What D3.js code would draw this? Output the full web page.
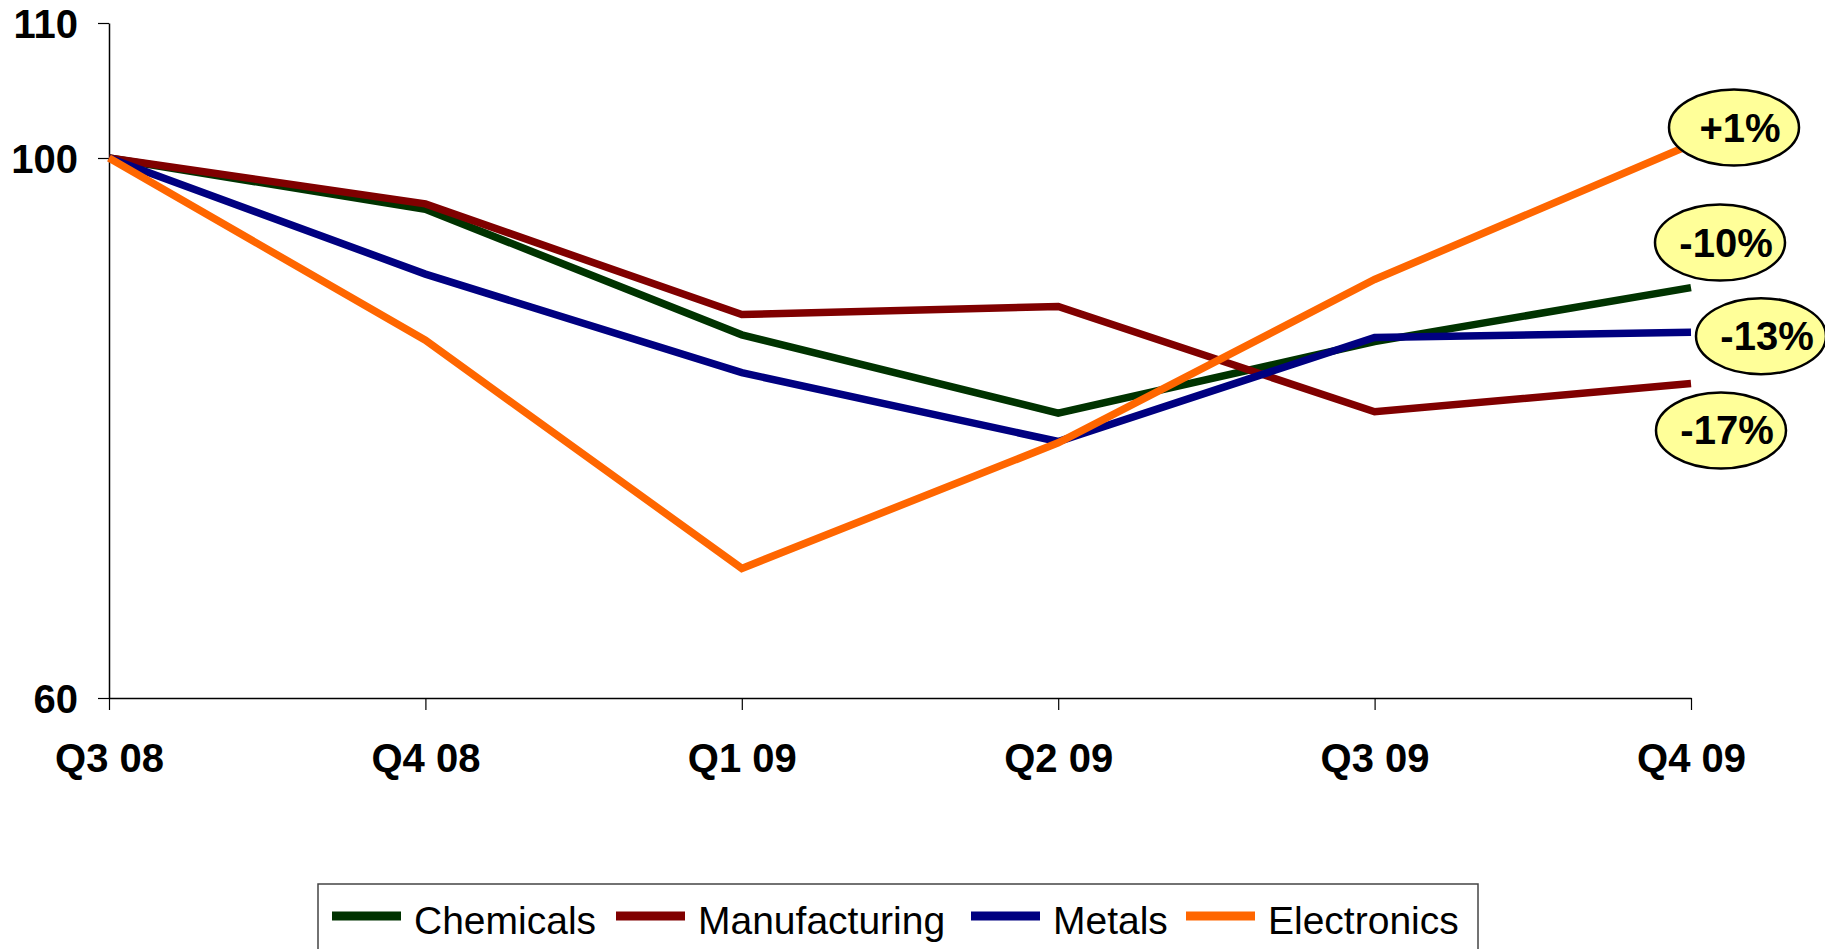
<!DOCTYPE html>
<html>
<head>
<meta charset="utf-8">
<script src="https://cdn.jsdelivr.net/npm/d3@7"></script>
<style>
  html, body { margin: 0; padding: 0; background: #fff; overflow: hidden; }
  svg { display: block; font-family: "Liberation Sans", Arial, sans-serif; }
</style>
</head>
<body>
<svg id="chart" width="1825" height="949"></svg>
<script>
// ---- data ----
const quarters = ["Q3 08", "Q4 08", "Q1 09", "Q2 09", "Q3 09", "Q4 09"];
const chemicals     = [100, 96.2, 86.9, 81.1, 86.4, 90.4];
const manufacturing = [100, 96.6, 88.4, 89.0, 81.2, 83.3];
const metals        = [100, 91.4, 84.1, 79.0, 86.7, 87.1];
const electronics   = [100, 86.5, 69.6, 78.9, 91.0, 101.0];
const seriesNames   = ["Chemicals", "Manufacturing", "Metals", "Electronics"];
const seriesValues  = [chemicals, manufacturing, metals, electronics];
const seriesColors  = ["#003300", "#800000", "#000080", "#FF6600"];
const yTickValues   = [60, 100, 110];
const changeLabels  = ["-10%", "-17%", "-13%", "+1%"];   // per series, same order

// annotation offsets from each series' last point (layout only)
const labelOffsets = [[29, -45], [30, 47], [70, 4], [43, -17]];
// legend item left edges (layout only)
const legendX = [332, 616, 971, 1186];

// ---- layout ----
const svg = d3.select("#chart");
const x = d3.scalePoint().domain(quarters).range([109, 1691]);
const y = d3.scaleLinear().domain([60, 110]).range([698, 23]);

// y axis
const yAxis = svg.append("g")
  .attr("transform", "translate(109,0)")
  .call(d3.axisLeft(y).tickValues(yTickValues).tickSize(11).tickSizeOuter(0).tickPadding(20));
yAxis.select(".domain").attr("stroke", "#000").attr("stroke-width", 1.5);
yAxis.selectAll(".tick line").attr("stroke", "#000").attr("stroke-width", 1.2);
yAxis.selectAll(".tick text")
  .attr("font-family", "'Liberation Sans', Arial, sans-serif")
  .attr("font-size", 40).attr("font-weight", "bold").attr("fill", "#000")
  .attr("dy", "0.36em");

// x axis
const xAxis = svg.append("g")
  .attr("transform", "translate(0,698)")
  .call(d3.axisBottom(x).tickSize(12).tickSizeOuter(0));
xAxis.select(".domain").attr("stroke", "#000").attr("stroke-width", 1.5);
xAxis.selectAll(".tick line").attr("stroke", "#000").attr("stroke-width", 1.2);
xAxis.selectAll(".tick text")
  .attr("font-family", "'Liberation Sans', Arial, sans-serif")
  .attr("font-size", 40).attr("font-weight", "bold").attr("fill", "#000")
  .attr("y", 74).attr("dy", 0);

// lines
const line = d3.line().x((d, i) => x(quarters[i])).y(d => y(d));
svg.append("g").selectAll("path")
  .data(seriesValues)
  .join("path")
  .attr("d", d => line(d))
  .attr("fill", "none")
  .attr("stroke", (d, i) => seriesColors[i])
  .attr("stroke-width", 7.5)
  .attr("stroke-linejoin", "miter")
  .attr("stroke-linecap", "butt");

// annotations
const ann = svg.append("g").selectAll("g")
  .data(seriesValues)
  .join("g")
  .attr("transform", (d, i) => {
    const last = quarters[quarters.length - 1];
    return `translate(${x(last) + labelOffsets[i][0]},${y(d[d.length - 1]) + labelOffsets[i][1]})`;
  });
ann.append("ellipse")
  .attr("rx", 65).attr("ry", 38)
  .attr("fill", "#FFFF99").attr("stroke", "#000").attr("stroke-width", 2.5);
ann.append("text")
  .attr("x", 6).attr("y", 14)
  .attr("text-anchor", "middle")
  .attr("font-size", 40).attr("font-weight", "bold").attr("fill", "#000")
  .text((d, i) => changeLabels[i]);

// legend
const legend = svg.append("g");
legend.append("rect")
  .attr("x", 318).attr("y", 884).attr("width", 1160).attr("height", 120)
  .attr("fill", "#fff").attr("stroke", "#444").attr("stroke-width", 1.5);
seriesNames.forEach((name, i) => {
  const lx = legendX[i];
  legend.append("line")
    .attr("x1", lx).attr("x2", lx + 69)
    .attr("y1", 916).attr("y2", 916)
    .attr("stroke", seriesColors[i]).attr("stroke-width", 9);
  legend.append("text")
    .attr("x", lx + 82).attr("y", 934)
    .attr("font-size", 39).attr("fill", "#000")
    .text(name);
});
</script>
</body>
</html>
